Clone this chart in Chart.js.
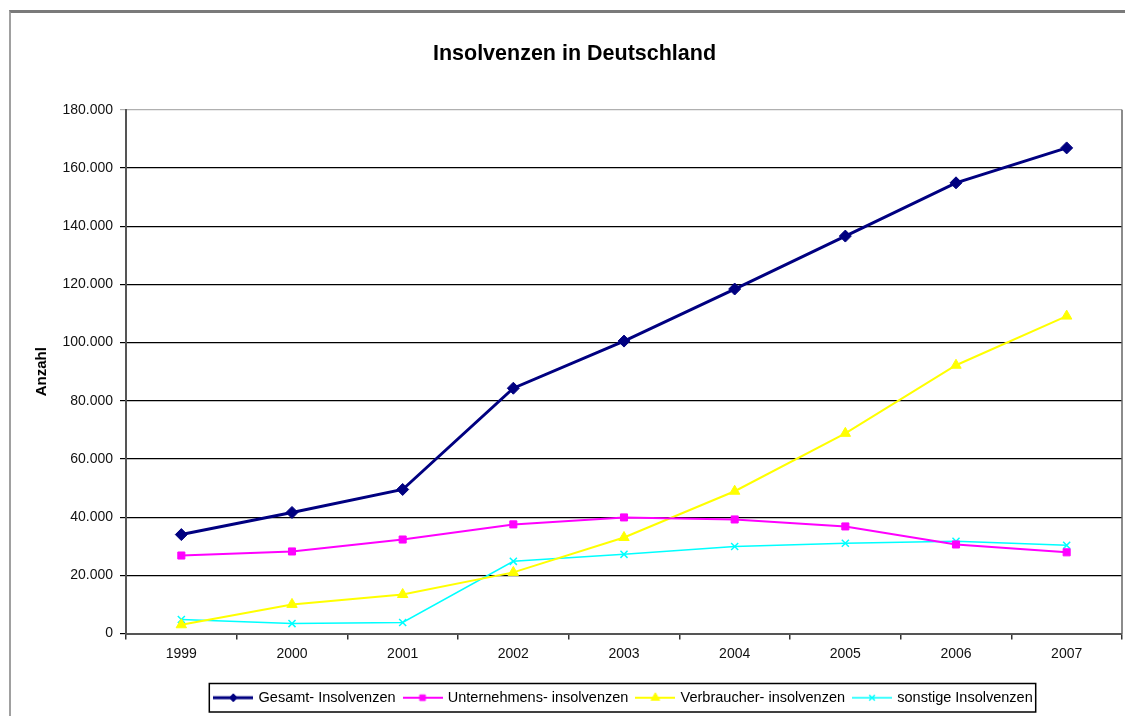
<!DOCTYPE html>
<html>
<head>
<meta charset="utf-8">
<script src="https://cdn.jsdelivr.net/npm/chart.js@4"></script>
<style>
  html, body { margin: 0; padding: 0; background: #fff; overflow: hidden; }
  #frame { position: absolute; left: 9px; top: 10px; width: 1130px; height: 720px;
    border-top: 3px solid #7a7a7a; border-left: 2px solid #a0a0a0; }
  #wrap { position: absolute; left: 0; top: 0; width: 1129px; height: 716px; }
</style>
</head>
<body>
<div id="frame"></div>
<div id="wrap"><canvas id="chart"></canvas></div>
<script>
const years = ["1999", "2000", "2001", "2002", "2003", "2004", "2005", "2006", "2007"];
const gesamt = [34000, 41600, 49500, 84300, 100500, 118400, 136600, 154900, 166900];
const unternehmen = [26800, 28200, 32300, 37500, 39900, 39200, 36800, 30600, 27900];
const verbraucher = [3000, 10000, 13400, 21000, 33000, 48900, 68800, 92200, 109100];
const sonstige = [4800, 3400, 3800, 24800, 27200, 29900, 31000, 31700, 30300];
const seriesNames = ["Gesamt- Insolvenzen", "Unternehmens- insolvenzen", "Verbraucher- insolvenzen", "sonstige Insolvenzen"];
const yTicks = [0, 20000, 40000, 60000, 80000, 100000, 120000, 140000, 160000, 180000];

const FONT = "'Liberation Sans', Arial, sans-serif";

// small legend icons: line with the marker in the middle
function legendIcon(st) {
  const c = document.createElement("canvas");
  c.width = 40; c.height = 14;
  const g = c.getContext("2d");
  g.strokeStyle = st.color; g.fillStyle = st.color; g.lineWidth = st.lw;
  g.beginPath(); g.moveTo(0, 7); g.lineTo(40, 7); g.stroke();
  g.lineWidth = st.bw || 1;
  Chart.helpers.drawPoint(g, { pointStyle: st.s, radius: st.lr, rotation: 0, borderWidth: st.bw || 1 }, 20, 7);
  return c;
}

const frameLines = {
  id: "frameLines",
  afterDraw(chart) {
    const ctx = chart.ctx, a = chart.chartArea, lg = chart.legend;
    ctx.save();
    ctx.strokeStyle = "#666";
    ctx.lineWidth = 1.5;
    ctx.beginPath(); ctx.moveTo(a.right, a.top); ctx.lineTo(a.right, a.bottom); ctx.stroke();
    if (lg && lg.legendHitBoxes && lg.legendHitBoxes.length) {
      const boxes = lg.legendHitBoxes;
      const l = Math.min(...boxes.map(b => b.left)) - 6;
      const r = Math.max(...boxes.map(b => b.left + b.width)) + 3;
      const t = boxes[0].top - 7;
      const h = boxes[0].height + 14;
      ctx.strokeStyle = "#000";
      ctx.lineWidth = 1.5;
      ctx.strokeRect(l, t, r - l, h);
    }
    ctx.restore();
  }
};

const styles = [
  { color: "#000080", lw: 3, s: "rectRot", r: 6, lr: 4 },
  { color: "#ff00ff", lw: 2, s: "rect", r: 5, lr: 4 },
  { color: "#ffff00", lw: 2, s: "triangle", r: 6, lr: 5 },
  { color: "#00ffff", lw: 1.5, s: "crossRot", r: 5, lr: 4, bw: 1.5 }
];
const values = [gesamt, unternehmen, verbraucher, sonstige];

const datasets = values.map((v, i) => ({
  label: seriesNames[i],
  data: v,
  borderColor: styles[i].color,
  backgroundColor: styles[i].color,
  borderWidth: styles[i].lw,
  pointStyle: styles[i].s,
  pointRadius: styles[i].r,
  pointHoverRadius: styles[i].r,
  pointBorderWidth: styles[i].bw || 1,
  tension: 0
}));

new Chart("chart", {
  type: "line",
  data: { labels: years, datasets: datasets },
  plugins: [frameLines],
  options: {
    responsive: true,
    maintainAspectRatio: false,
    animation: false,
    layout: { padding: { left: 20, right: 0, top: 0, bottom: 1 } },
    plugins: {
      title: {
        display: true,
        text: "Insolvenzen in Deutschland",
        color: "#000",
        font: { family: FONT, size: 21.5, weight: "bold" },
        padding: { top: 41, bottom: 43 }
      },
      legend: {
        position: "bottom",
        fullSize: false,
        labels: {
          color: "#000",
          font: { family: FONT, size: 14.5 },
          usePointStyle: true,
          pointStyleWidth: 36,
          padding: 9,
          generateLabels: (chart) => chart.data.datasets.map((d, i) => ({
            text: d.label,
            pointStyle: legendIcon(styles[i]),
            fillStyle: styles[i].color,
            strokeStyle: styles[i].color,
            lineWidth: 0,
            datasetIndex: i
          }))
        }
      },
      tooltip: { enabled: false }
    },
    scales: {
      x: {
        offset: true,
        afterFit: (s) => { s.height = 48; },
        grid: { offset: true, drawOnChartArea: false, color: "#333", tickLength: 6, lineWidth: 1.5 },
        border: { color: "#555", width: 2 },
        ticks: { color: "#111", font: { family: FONT, size: 14 }, padding: 6 }
      },
      y: {
        min: 0,
        max: 180000,
        afterFit: (s) => { s.width = 106; },
        afterBuildTicks: (s) => { s.ticks = yTicks.map(v => ({ value: v })); },
        grid: {
          color: (c) => c.tick && c.tick.value === 180000 ? "#b0b0b0" : "#000",
          lineWidth: 1.2,
          tickLength: 6
        },
        border: { color: "#555", width: 2 },
        ticks: {
          color: "#111",
          font: { family: FONT, size: 14 },
          padding: 7,
          callback: (v) => v.toLocaleString("de-DE")
        },
        title: {
          display: true,
          text: "Anzahl",
          color: "#000",
          font: { family: FONT, size: 15, weight: "bold" },
          padding: { top: 13, bottom: 0 }
        }
      }
    }
  }
});
</script>
</body>
</html>
